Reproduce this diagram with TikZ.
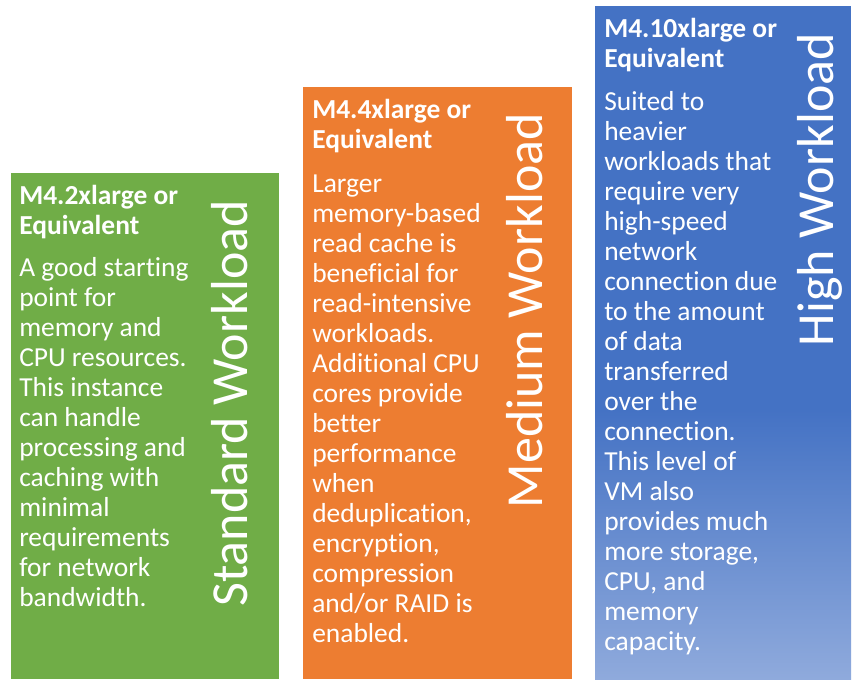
\documentclass[tikz,border=0pt]{standalone}
\usepackage{fontspec}
\setmainfont{Carlito}[Ligatures={NoCommon}]
\definecolor{cgreen}{HTML}{70AD47}
\definecolor{corange}{HTML}{ED7D31}
\definecolor{cblue}{HTML}{4472C4}
\definecolor{cbluelight}{HTML}{8FAADC}
\begin{document}
\begin{tikzpicture}[x=0.75pt,y=-0.75pt,
  txt/.style={anchor=north west,inner sep=0pt,align=left,text=white,
    font=\fontsize{20.6}{22.5}\selectfont},
  ttl/.style={txt,font=\fontsize{20.6}{22.5}\selectfont\bfseries},
  vert/.style={rotate=90,anchor=base east,inner sep=0pt,text=white,
    font=\fontsize{39}{41}\selectfont}]
\useasboundingbox[fill=white] (0,0) rectangle (852,679);
% boxes
\fill[cgreen] (10.7,173.3) rectangle (278.7,679);
\fill[corange] (303.3,87.3) rectangle (572,679);
\fill[cblue] (595,5.7) rectangle (851,411);
\shade[top color=cblue,bottom color=cbluelight] (595,410) rectangle (851,679);
% green
\node[ttl] (t1) at (19,183) {\rule{0pt}{16pt}M4.2xlarge or\\Equivalent};
\node[txt] (b1) at (19,255) {\rule{0pt}{16pt}A good starting\\point for\\memory and\\CPU resources.\\This instance\\can handle\\processing and\\caching with\\minimal\\requirements\\for network\\bandwidth.};
\node[vert] (v1) at (247,200) {Standard Workload};
% orange
\node[ttl] (t2) at (312,96.5) {\rule{0pt}{16pt}M4.4xlarge or\\Equivalent};
\node[txt] (b2) at (312,170.5) {\rule{0pt}{16pt}Larger\\memory-based\\read cache is\\beneficial for\\read-intensive\\workloads.\\Additional CPU\\cores provide\\better\\performance\\when\\deduplication,\\encryption,\\compression\\and/or RAID is\\enabled.};
\node[vert] (v2) at (542,113) {Medium Workload};
% blue
\node[ttl] (t3) at (604,15.5) {\rule{0pt}{16pt}M4.10xlarge or\\Equivalent};
\node[txt] (b3) at (604,88.5) {\rule{0pt}{16pt}Suited to\\heavier\\workloads that\\require very\\high-speed\\network\\connection due\\to the amount\\of data\\transferred\\over the\\connection.\\This level of\\VM also\\provides much\\more storage,\\CPU, and\\memory\\capacity.};
\node[vert] (v3) at (833,33) {High Workload};
\end{tikzpicture}
\end{document}
